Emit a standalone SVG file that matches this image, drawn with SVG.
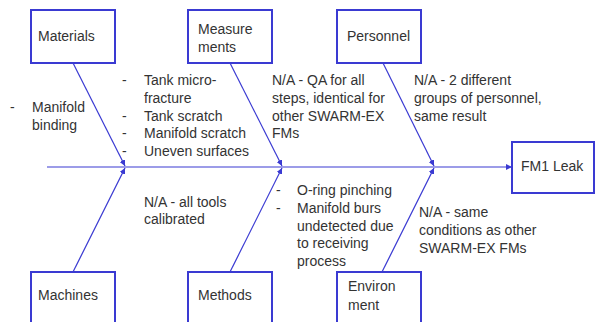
<svg xmlns="http://www.w3.org/2000/svg" width="596" height="322" viewBox="0 0 596 322">
<defs>
<style>
.box{fill:#fff;stroke:#3a3ad2;stroke-width:2}
.ln{stroke:#3a3ad2;stroke-width:1.2;fill:none}
.t{font-family:"Liberation Sans",Arial,sans-serif;font-size:14px;fill:#333}
</style>
<marker id="ah" viewBox="0 0 10 10" refX="10" refY="5" markerWidth="6" markerHeight="6" markerUnits="userSpaceOnUse" orient="auto">
<path d="M0,0 L10,5 L0,10 Z" fill="#3a3ad2"/>
</marker>
</defs>
<rect width="596" height="322" fill="#fff"/>
<g id="connectors">
<line class="ln" x1="47" y1="167" x2="512" y2="167" marker-end="url(#ah)"/>
<line class="ln" x1="73" y1="63" x2="125" y2="166" marker-end="url(#ah)"/>
<line class="ln" x1="230" y1="63" x2="282" y2="166" marker-end="url(#ah)"/>
<line class="ln" x1="383" y1="63" x2="434" y2="166" marker-end="url(#ah)"/>
<line class="ln" x1="73" y1="272" x2="125" y2="168" marker-end="url(#ah)"/>
<line class="ln" x1="230" y1="272" x2="282" y2="168" marker-end="url(#ah)"/>
<line class="ln" x1="382" y1="272" x2="434" y2="168" marker-end="url(#ah)"/>
</g>
<g id="materials">
<rect class="box" x="31" y="10" width="84" height="53"/>
<text class="t" x="38" y="41">Materials</text>
</g>
<g id="measurements">
<rect class="box" x="188" y="10" width="84" height="53"/>
<text class="t" x="198" y="34">Measure</text>
<text class="t" x="198" y="52">ments</text>
</g>
<g id="personnel">
<rect class="box" x="337" y="10" width="84" height="53"/>
<text class="t" x="347" y="41">Personnel</text>
</g>
<g id="fm1leak">
<rect class="box" x="512" y="142" width="82" height="51"/>
<text class="t" x="521" y="171">FM1 Leak</text>
</g>
<g id="machines">
<rect class="box" x="31" y="272" width="84" height="60"/>
<text class="t" x="38" y="300">Machines</text>
</g>
<g id="methods">
<rect class="box" x="188" y="272" width="84" height="60"/>
<text class="t" x="198" y="300">Methods</text>
</g>
<g id="environment">
<rect class="box" x="337" y="272" width="84" height="60"/>
<text class="t" x="348" y="291">Environ</text>
<text class="t" x="348" y="310">ment</text>
</g>
<g id="labels">
<text class="t" x="10" y="112">-</text>
<text class="t" x="32" y="112">Manifold</text>
<text class="t" x="32" y="130">binding</text>
<text class="t" x="122" y="85">-</text>
<text class="t" x="144" y="85">Tank micro-</text>
<text class="t" x="144" y="103">fracture</text>
<text class="t" x="122" y="121">-</text>
<text class="t" x="144" y="121">Tank scratch</text>
<text class="t" x="122" y="138">-</text>
<text class="t" x="144" y="138">Manifold scratch</text>
<text class="t" x="122" y="156">-</text>
<text class="t" x="144" y="156">Uneven surfaces</text>
<text class="t" x="272" y="85">N/A - QA for all</text>
<text class="t" x="272" y="103">steps, identical for</text>
<text class="t" x="272" y="121">other SWARM-EX</text>
<text class="t" x="272" y="138">FMs</text>
<text class="t" x="414" y="85">N/A - 2 different</text>
<text class="t" x="414" y="103">groups of personnel,</text>
<text class="t" x="414" y="121">same result</text>
<text class="t" x="144" y="207">N/A - all tools</text>
<text class="t" x="144" y="224">calibrated</text>
<text class="t" x="276" y="195">-</text>
<text class="t" x="297" y="195">O-ring pinching</text>
<text class="t" x="276" y="213">-</text>
<text class="t" x="297" y="213">Manifold burs</text>
<text class="t" x="297" y="231">undetected due</text>
<text class="t" x="297" y="248">to receiving</text>
<text class="t" x="297" y="266">process</text>
<text class="t" x="419" y="217">N/A - same</text>
<text class="t" x="419" y="235">conditions as other</text>
<text class="t" x="419" y="253">SWARM-EX FMs</text>
</g>
</svg>
